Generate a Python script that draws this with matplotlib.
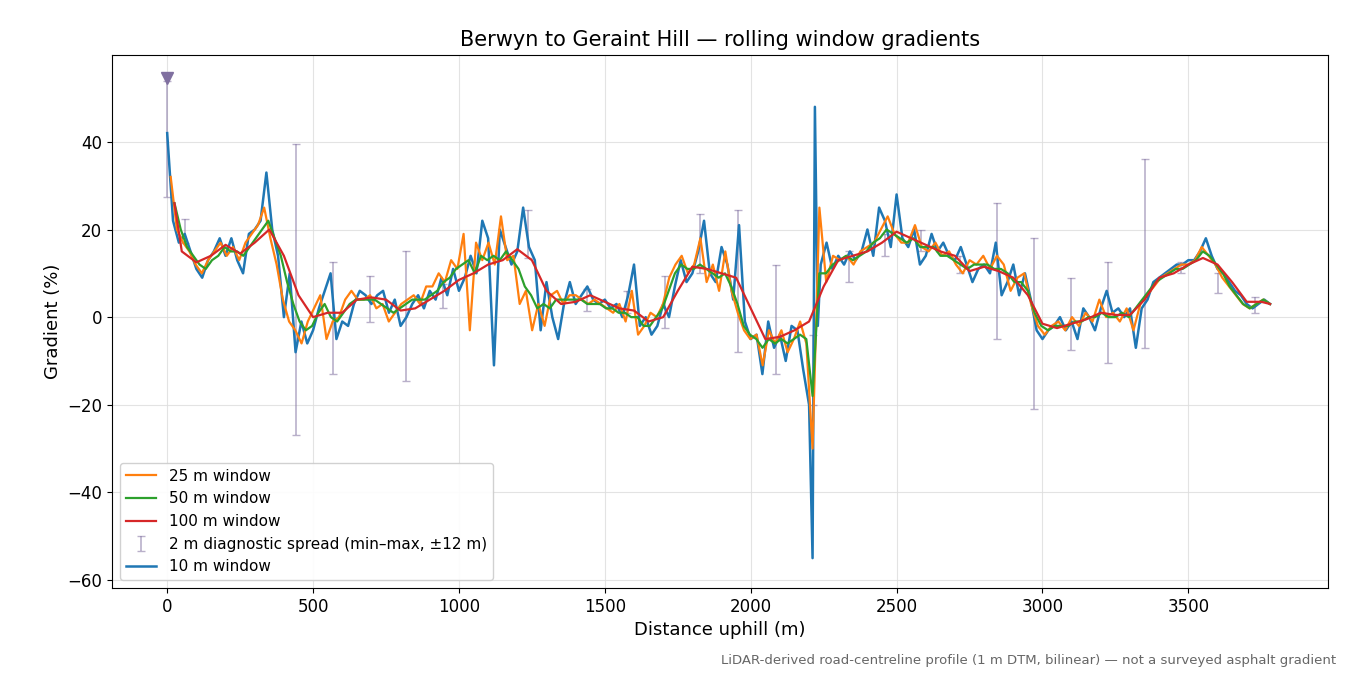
import matplotlib
matplotlib.use("Agg")
import matplotlib.pyplot as plt
import numpy as np

x10 = [0,20,40,60,80,100,120,140,160,180,200,220,240,260,280,300,320,340,360,380,400,420,440,460,480,500,520,540,560,580,600,620,640,660,680,700,720,740,760,780,800,820,840,860,880,900,920,940,960,980,1000,1020,1040,1060,1080,1100,1120,1140,1160,1180,1200,1220,1240,1260,1280,1300,1320,1340,1360,1380,1400,1420,1440,1460,1480,1500,1520,1540,1560,1580,1600,1620,1640,1660,1680,1700,1720,1740,1760,1780,1800,1820,1840,1860,1880,1900,1920,1940,1960,1980,2000,2020,2040,2060,2080,2100,2120,2140,2160,2180,2200,2212,2220,2230,2240,2260,2280,2300,2320,2340,2360,2380,2400,2420,2440,2460,2480,2500,2520,2540,2560,2580,2600,2620,2640,2660,2680,2700,2720,2740,2760,2780,2800,2820,2840,2860,2880,2900,2920,2940,2960,2980,3000,3020,3040,3060,3080,3100,3120,3140,3160,3180,3200,3220,3240,3260,3280,3300,3320,3340,3360,3380,3400,3420,3440,3460,3480,3500,3520,3540,3560,3580,3600,3620,3640,3660,3680,3700,3720,3740,3760,3780]
y10 = [42,22,17,19,15,11,9,13,15,18,14,18,13,10,19,20,22,33,20,14,0,10,-8,-1,-6,-3,2,6,10,-5,-1,-2,3,6,5,3,5,6,1,4,-2,0,3,5,2,6,4,9,5,11,6,9,14,10,22,18,-11,20,16,12,15,25,16,13,-3,8,0,-5,3,8,3,5,7,4,3,4,2,3,0,5,12,-2,0,-4,-2,3,0,7,13,8,10,15,22,10,8,16,12,4,21,-1,-5,-4,-13,-1,-7,-4,-10,-2,-3,-12,-20,-55,48,-2,12,17,11,14,12,15,13,15,20,14,25,22,16,28,18,16,20,12,14,19,15,17,14,13,16,12,8,11,12,10,17,5,8,12,5,10,4,-3,-5,-3,-2,0,-3,-1,-5,2,0,-3,2,6,1,2,0,2,-7,2,4,8,9,10,11,12,12,13,13,15,18,14,11,10,8,6,5,3,2,3,4,3]

y25 = [32,20,17,15,12,10,13,15,17,14,16,13,17,19,21,25,18,12,4,-1,-3,-6,-1,2,5,-5,-1,0,4,6,4,4,5,2,3,-1,1,3,4,5,3,7,7,10,8,13,11,19,-3,17,13,17,12,23,13,14,3,6,-3,3,-2,5,6,3,5,5,4,3,4,3,2,1,3,-1,6,-4,-2,1,0,3,9,12,14,10,12,18,8,12,6,15,6,1,-3,-5,-4,-11,-3,-6,-3,-8,-5,-1,-6,-30,25,8,14,13,14,12,15,16,17,20,23,19,17,17,21,16,15,17,14,15,12,10,13,12,14,11,14,12,6,9,10,3,-2,-4,-2,-1,-3,0,-2,1,-1,4,0,1,-1,2,-3,3,5,7,9,10,11,12,12,13,16,14,12,9,7,5,3,2,3,4,3]
y50 = [26,20,16,14,12,11,13,14,16,15,15,14,16,18,20,22,18,14,8,3,-1,-3,-2,1,3,0,-1,1,3,4,4,4,4,3,2,1,2,3,4,4,4,5,6,8,9,11,12,13,10,14,13,14,13,15,13,11,7,5,2,3,2,4,4,4,4,4,3,3,3,2,2,1,1,0,0,-2,-2,0,2,6,10,12,11,11,12,11,10,9,10,7,3,-2,-4,-5,-7,-5,-6,-5,-6,-5,-4,-5,-18,10,10,12,13,14,13,14,15,17,18,20,19,18,17,18,16,16,16,14,14,13,12,11,12,12,12,11,11,10,8,8,6,1,-2,-3,-2,-2,-2,-1,-1,0,0,1,0,0,1,0,2,4,6,8,9,10,11,11,12,13,15,14,12,10,7,5,3,2,3,4,3]

x100 = [25,50,100,150,200,250,300,350,400,450,500,550,600,650,700,750,800,850,900,950,1000,1050,1100,1150,1200,1250,1300,1350,1400,1450,1500,1550,1600,1650,1700,1750,1800,1850,1900,1950,2000,2050,2100,2150,2200,2250,2300,2350,2400,2450,2500,2550,2600,2650,2700,2750,2800,2850,2900,2950,3000,3050,3100,3150,3200,3250,3300,3350,3400,3450,3500,3550,3600,3650,3700,3750,3780]
y100 = [26,15,12.5,14,16.5,14.5,17,20,14,5,0,1,1,4,4.5,4,1.5,2,4,6,8.5,10,12,13,15.5,13,6,3,3.5,5,3.5,2,1.5,-1,0,6,11.5,11,10,9,2,-5,-4.5,-3,-1,7,13,14,15,17,19.5,18,16.5,15,14,10.5,11.5,10.5,9,5,-1.5,-2.5,-1.5,-0.5,1,0.5,0.5,4,9,10,12,13.5,12,8,3.5,3.5,3]

ex = [0,60,440,570,695,820,945,1237,1440,1577,1707,1827,1958,2088,2215,2338,2460,2585,2719,2845,2972,3099,3226,3353,3476,3603,3730]
emin = [27.5,17,-27,-13,-1,-14.5,2,13.5,1.5,1,-2.5,10,-8,-13,-20,8,14,15,10,-5,-21,-7.5,-10.5,-7,10,5.5,1]
emax = [54,22.5,39.5,12.5,9.5,15,7.5,24.5,6.5,6,9.5,23.5,24.5,12,-4,15,19,20,14,26,18,9,12.5,36,12.5,10,4.5]


def positions(y, dip_value, start, dip_x=2212, end=3780):
    i = y.index(dip_value)
    a = np.linspace(start, dip_x, i + 1)
    b = np.linspace(dip_x, end, len(y) - i)[1:]
    return np.concatenate([a, b])


x25 = positions(y25, -30, 12)
x50 = positions(y50, -18, 25)

fig = plt.figure(figsize=(13.5, 6.75), dpi=100)
ax = fig.add_axes([0.083, 0.129, 0.901, 0.790])
ax.grid(True, color='#dddddd', linewidth=0.8, alpha=0.8)
ax.set_axisbelow(True)

emid = [(a + b) / 2 for a, b in zip(emin, emax)]
err = [[m - a for m, a in zip(emid, emin)], [b - m for b, m in zip(emax, emid)]]
ax.errorbar(ex, emid, yerr=err, fmt='none', ecolor='#8070a0', alpha=0.55, capsize=3, elinewidth=1.2,
            label='2 m diagnostic spread (min–max, ±12 m)')
ax.plot([0], [54.5], marker='v', color='#8070a0', markersize=8, linestyle='none')

ax.plot(x10, y10, color='#1f77b4', lw=1.8, label='10 m window')
ax.plot(x25, y25, color='#ff7f0e', lw=1.6, label='25 m window')
ax.plot(x50, y50, color='#2ca02c', lw=1.6, label='50 m window')
ax.plot(x100, y100, color='#d62728', lw=1.6, label='100 m window')

ax.set_xlim(-189, 3980)
ax.set_ylim(-61.8, 59.9)
ax.set_xticks([0, 500, 1000, 1500, 2000, 2500, 3000, 3500])
ax.set_yticks([-60, -40, -20, 0, 20, 40])
ax.tick_params(labelsize=12)
ax.set_xlabel('Distance uphill (m)', fontsize=13)
ax.set_ylabel('Gradient (%)', fontsize=13)
ax.set_title('Berwyn to Geraint Hill — rolling window gradients', fontsize=15)

h, l = ax.get_legend_handles_labels()
order = [1, 2, 3, 4, 0]
ax.legend([h[i] for i in order], [l[i] for i in order], loc='lower left', fontsize=11, framealpha=0.9)
fig.text(0.99, 0.012, 'LiDAR-derived road-centreline profile (1 m DTM, bilinear) — not a surveyed asphalt gradient',
         ha='right', va='bottom', fontsize=9.5, color='#666666')
fig.savefig('out.png', dpi=100)
